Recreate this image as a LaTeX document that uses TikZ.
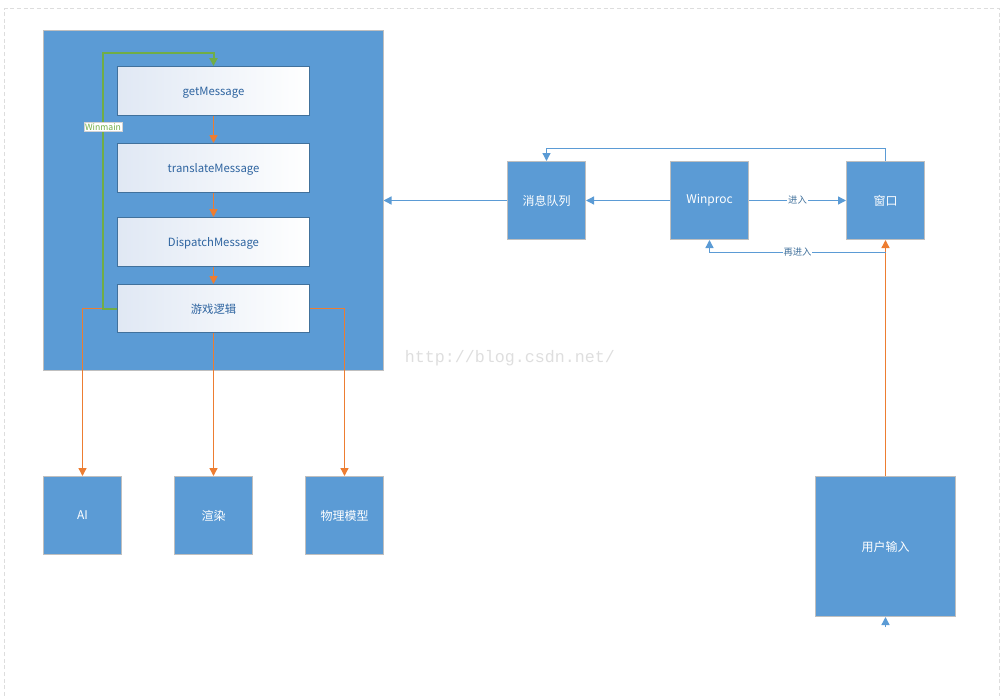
\documentclass[tikz,border=0pt]{standalone}
\usepackage{fontspec}
\setmainfont{Noto Sans CJK SC}
\newfontfamily\urlfont{Liberation Mono}
\usepackage{tikz}
\usetikzlibrary{arrows.meta}
\tikzset{every picture/.style={line width=0.75pt}}
\definecolor{innershade}{RGB}{224,232,244}
\definecolor{linegreen}{RGB}{112,173,71}
\definecolor{lineorange}{RGB}{237,125,49}
\definecolor{lineblue}{RGB}{91,155,213}
\tikzset{
  bluebox/.style={draw={rgb, 255:red, 191; green, 191; blue, 191}, fill=lineblue, text=white, inner sep=0pt, font=\fontsize{9}{11}\selectfont},
  innerbox/.style={draw={rgb, 255:red, 65; green, 113; blue, 156}, left color=innershade, right color=white, text={rgb, 255:red, 46; green, 100; blue, 160}, inner sep=0pt, minimum width=144pt, minimum height=36.75pt, text depth=0pt, font=\fontsize{8.5}{10}\selectfont},
  orangeline/.style={draw=lineorange, line width=1pt},
  greenline/.style={draw=linegreen, line width=1.5pt},
  blueline/.style={draw=lineblue, line width=1pt},
  tip/.style={-{Triangle[width=6pt,length=6pt]}},
  linklabel/.style={fill=white, inner sep=0.6pt, text={rgb, 255:red, 65; green, 113; blue, 156}, font=\fontsize{7}{8}\selectfont}
}

\begin{document}
\begin{tikzpicture}[x=0.75pt,y=0.75pt,yscale=-1,xscale=1]
\useasboundingbox (0,0) rectangle (1000,696);
% frame
\draw [color={rgb, 255:red, 221; green, 221; blue, 221}, dash pattern=on 3pt off 2pt]   (4.5,696) -- (4.5,8.5) -- (999.5,8.5) -- (999.5,696) ;
% watermark
\draw (510,358) node (watermark) [text={rgb, 255:red, 222; green, 222; blue, 222}, font=\urlfont\fontsize{12.5}{14}\selectfont] {http://blog.csdn.net/};
% left side
\fill [lineblue] (43,30) rectangle (384,371);
\draw [color={rgb, 255:red, 191; green, 191; blue, 191}] (43.5,30.5) rectangle (383.5,370.5);
\coordinate (winboxeast) at (383.5,200.5);
\draw (213.5,91) node (getmsg) [innerbox] {getMessage};
\draw (213.5,168) node (transmsg) [innerbox] {translateMessage};
\draw (213.5,242) node (dispmsg) [innerbox] {DispatchMessage};
\draw (213.5,308.5) node (gamelogic) [innerbox, minimum height=36pt] {游戏逻辑};
\draw (82.5,515.5) node (ai) [bluebox, minimum width=58.5pt, minimum height=58.5pt] {AI};
\draw (213.5,515.5) node (render) [bluebox, minimum width=58.5pt, minimum height=58.5pt] {渲染};
\draw (344.5,515.5) node (physics) [bluebox, minimum width=58.5pt, minimum height=58.5pt] {物理模型};
\draw [orangeline, tip]   (getmsg) -- (transmsg) ;
\draw [orangeline, tip]   (transmsg) -- (dispmsg) ;
\draw [orangeline, tip]   (dispmsg) -- (gamelogic) ;
\draw [orangeline, tip]   (gamelogic.west) -| (ai.north) ;
\draw [orangeline, tip]   (gamelogic.east) -| (physics.north) ;
\draw [orangeline, tip]   (gamelogic.south) -- (render.north) ;
\coordinate (looptop) at (103,53);
\draw [greenline, tip]   (gamelogic.west) -| (looptop) -| (getmsg.north) ;
\draw (103,127) node (winmain) [draw={rgb, 255:red, 210; green, 210; blue, 210}, fill=white, inner sep=0.8pt, line width=0.4pt, text=linegreen, font=\fontsize{6.5}{8}\selectfont] {Winmain};
% right side
\draw (546.5,200.5) node (msgqueue) [bluebox, minimum width=58.5pt, minimum height=58.5pt] {消息队列};
\draw (709.5,200.5) node (winproc) [bluebox, minimum width=58.5pt, minimum height=58.5pt] {Winproc};
\draw (885.5,200.5) node (window) [bluebox, minimum width=58.5pt, minimum height=58.5pt] {窗口};
\draw (885.5,546.5) node (userinput) [bluebox, minimum width=105pt, minimum height=105pt] {用户输入};
\draw [blueline, tip]   (msgqueue) -- (winboxeast) ;
\draw [blueline, tip]   (winproc) -- (msgqueue) ;
\draw [blueline, tip]   (winproc) -- node [linklabel] {进入} (window) ;
\coordinate (qtop) at (885.5,148.5);
\draw [blueline, tip]   (window.north) -- (qtop) -| (msgqueue.north) ;
\draw [orangeline, tip]   (userinput) -- (window) ;
\coordinate (reenter) at (885.5,252.5);
\draw [blueline, tip]   (reenter) -| node [linklabel, pos=0.25] {再进入} (winproc.south) ;
\coordinate (inputtip) at (885.5,627);
\draw [blueline, tip]   (inputtip) -- (userinput.south) ;
\end{tikzpicture}
\end{document}
